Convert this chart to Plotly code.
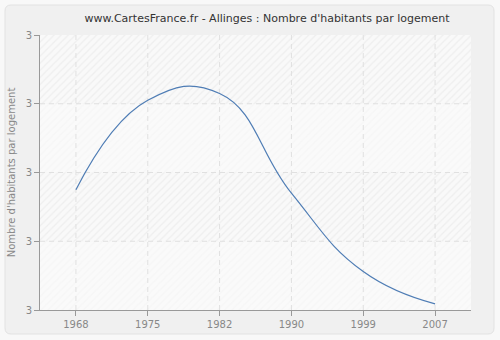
import plotly.graph_objects as go

# Census years and average number of inhabitants per dwelling
years = ["1968", "1975", "1982", "1990", "1999", "2007"]
habitants_par_logement = [3.175, 3.305, 3.315, 3.170, 3.056, 3.009]

y_ticks = [3.0, 3.1, 3.2, 3.3, 3.4]
y_tick_labels = ["3", "3", "3", "3", "3"]

x_pos = list(range(len(years)))
x_lo, x_hi = -0.5, len(years) - 0.5
y_lo, y_hi = y_ticks[0], y_ticks[-1]

fig = go.Figure()

# hatched background bands (stronger hatch on alternate bands)
for i in range(len(y_ticks) - 1):
    strong = (len(y_ticks) - 2 - i) % 2 == 0
    a, b = y_ticks[i], y_ticks[i + 1]
    fig.add_trace(go.Scatter(
        x=[x_lo, x_hi, x_hi, x_lo, x_lo], y=[a, a, b, b, a],
        mode="none", fill="toself", hoverinfo="skip", showlegend=False,
        fillpattern=dict(shape="/", size=5, solidity=0.25,
                         fgcolor="#e3e3e3" if strong else "#f1f1f1",
                         bgcolor="#f9f9f9" if strong else "#fafafa"),
    ))

# dashed grid drawn over the hatching
grid_line = dict(color="#e0e0e0", width=1, dash="5px,4px")
for xv in x_pos:
    fig.add_trace(go.Scatter(x=[xv, xv], y=[y_lo, y_hi], mode="lines",
                             line=grid_line, hoverinfo="skip", showlegend=False))
for yv in y_ticks[1:-1]:
    fig.add_trace(go.Scatter(x=[x_lo, x_hi], y=[yv, yv], mode="lines",
                             line=grid_line, hoverinfo="skip", showlegend=False))

fig.add_trace(go.Scatter(
    x=x_pos, y=habitants_par_logement, mode="lines",
    line=dict(color="#4f7db5", width=1.2, shape="spline", smoothing=1.3),
    showlegend=False,
))

px_l, px_r, px_t, px_b = 40, 471, 35, 310
pw, ph = px_r - px_l, px_b - px_t


def xp(px):
    return (px - px_l) / pw


def yp(py):
    return (px_b - py) / ph


# rounded outer panel
x0, x1, y0, y1, r = 5, 494, 5, 334, 6
path = (f"M {xp(x0 + r)} {yp(y0)} L {xp(x1 - r)} {yp(y0)} "
        f"Q {xp(x1)} {yp(y0)} {xp(x1)} {yp(y0 + r)} L {xp(x1)} {yp(y1 - r)} "
        f"Q {xp(x1)} {yp(y1)} {xp(x1 - r)} {yp(y1)} L {xp(x0 + r)} {yp(y1)} "
        f"Q {xp(x0)} {yp(y1)} {xp(x0)} {yp(y1 - r)} L {xp(x0)} {yp(y0 + r)} "
        f"Q {xp(x0)} {yp(y0)} {xp(x0 + r)} {yp(y0)} Z")

shapes = [dict(type="path", path=path, xref="paper", yref="paper",
               fillcolor="#f0f0f0", line=dict(color="#e2e2e2", width=1),
               layer="below")]

fig.update_layout(
    width=500, height=340,
    margin=dict(l=px_l, r=500 - px_r, t=px_t, b=340 - px_b),
    paper_bgcolor="#f8f8f8", plot_bgcolor="#fafafa",
    font=dict(family="DejaVu Sans", size=10, color="#888888"),
    title=dict(text="www.CartesFrance.fr - Allinges : Nombre d'habitants par logement",
               x=0.534, xanchor="center", y=0.948, yanchor="middle",
               font=dict(family="DejaVu Sans", size=11, color="#333333")),
    xaxis=dict(range=[x_lo, x_hi], tickvals=x_pos, ticktext=years,
               showgrid=False, automargin=False,
               showline=True, linecolor="#999999", linewidth=1,
               ticks="outside", ticklen=5, tickcolor="#999999",
               zeroline=False, fixedrange=True),
    yaxis=dict(range=[y_lo, y_hi], tickvals=y_ticks, ticktext=y_tick_labels,
               showgrid=False, automargin=False,
               showline=True, linecolor="#999999", linewidth=1,
               ticks="outside", ticklen=5, tickcolor="#999999",
               zeroline=False, fixedrange=True,
               title=dict(text="Nombre d'habitants par logement", standoff=8,
                          font=dict(size=10, color="#888888"))),
    shapes=shapes,
)

fig.write_html("out.html")
